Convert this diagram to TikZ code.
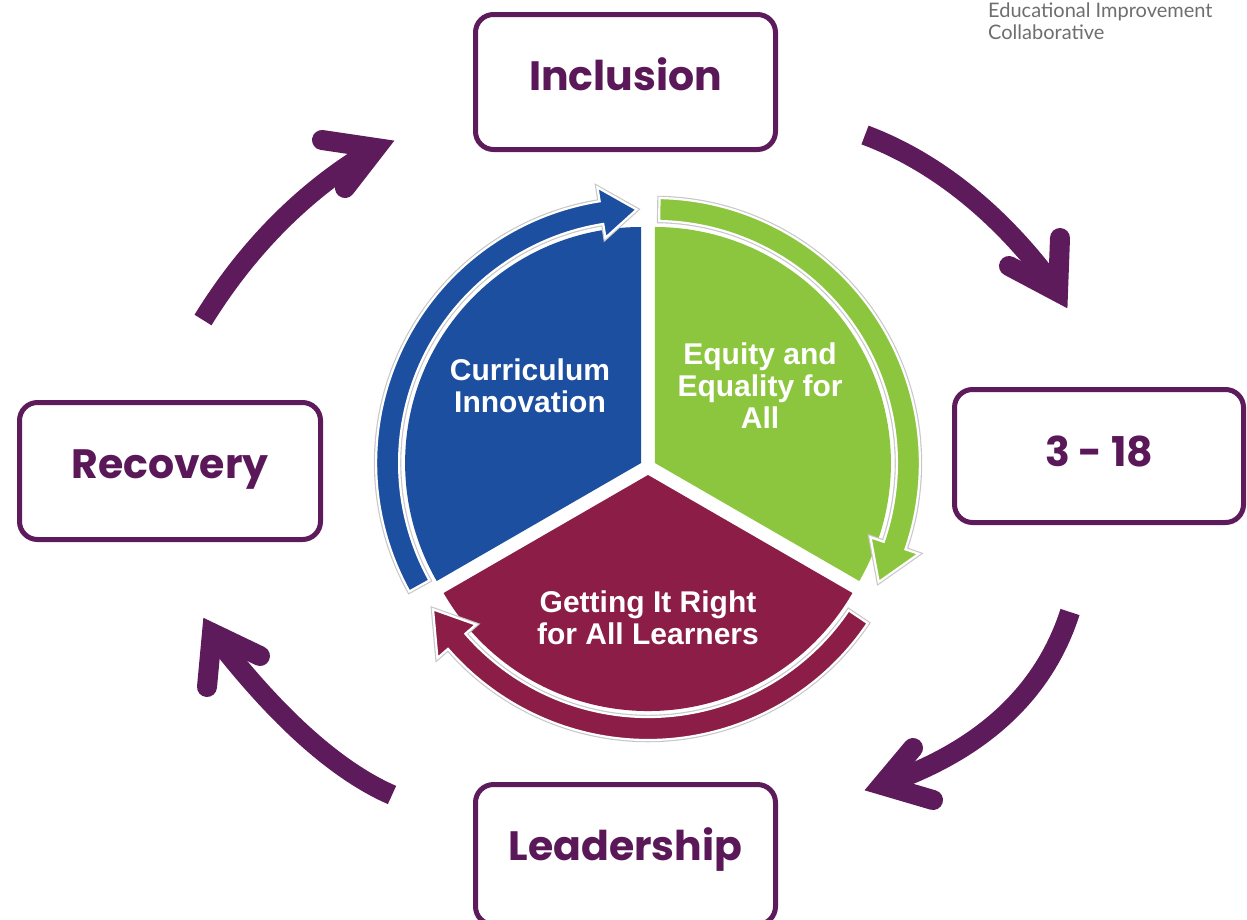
\documentclass[tikz,border=0pt]{standalone}
\usepackage{fontspec}
\setmainfont{Liberation Sans}
\newfontfamily\boxfont{Poppins}
\newfontfamily\logofont{Lato}
\definecolor{purp}{HTML}{5E1B5C}
\definecolor{purptext}{HTML}{5A1858}
\definecolor{cblue}{HTML}{1C4FA0}
\definecolor{cgreen}{HTML}{8CC63E}
\definecolor{cmaroon}{HTML}{8B1D46}
\definecolor{logogray}{HTML}{6E6E6E}
\tikzset{
  box/.style={draw=purp, line width=5pt, rounded corners=18pt, fill=white,
    minimum width=300pt, minimum height=135pt, inner sep=0pt, text=purptext,
    font=\boxfont\bfseries\fontsize{41}{41}\selectfont, text height=30pt},
  shaft/.style={draw=purp, line width=20pt},
  barb/.style={draw=purp, line width=20pt, line cap=round, line join=miter},
  band/.style={draw=white, line width=2.2pt, preaction={draw=black!22, line width=4.5pt}},
  seglabel/.style={text=white, font=\bfseries\fontsize{30}{32}\selectfont, align=center, inner sep=0pt},
}
\begin{document}
\begin{tikzpicture}[x=1pt,y=1pt]
\useasboundingbox (0,0) rectangle (1247,-919);

% logo text
\node[anchor=north west, inner sep=0pt, align=left, text=logogray,
      font=\logofont\fontsize{20}{21.5}\selectfont] (logo) at (988,-3)
      {Educational Improvement\\Collaborative};

% boxes
\node[box, text depth=14pt] (incl) at (625.5,-82) {Inclusion};
\node[box, text depth=10pt, minimum width=289pt, minimum height=133pt] (age) at (1099,-456) {3 - 18};
\node[box, text depth=16pt, minimum width=301pt, minimum height=137pt] (recov) at (170,-471) {Recovery};
\node[box, text depth=19pt, minimum height=140pt] (lead) at (625.5,-854.5) {Leadership};

% outer arrows
\coordinate (t1) at (203,-320);  \coordinate (v1) at (376,-148);
\coordinate (a1) at (322,-140);  \coordinate (b1) at (345,-188);
\draw[shaft] (t1) .. controls (240,-260) and (295,-195) .. (v1);
\draw[barb] (a1) -- (v1) -- (b1);

\coordinate (t2) at (865,-135);  \coordinate (v2) at (1058,-292);
\coordinate (a2) at (1060,-238); \coordinate (b2) at (1009,-266);
\draw[shaft] (t2) .. controls (945,-165) and (1010,-225) .. (v2);
\draw[barb] (a2) -- (v2) -- (b2);

\coordinate (t3) at (1070,-612); \coordinate (v3) at (882,-785);
\coordinate (a3) at (913,-748);  \coordinate (b3) at (933,-800);
\draw[shaft] (t3) .. controls (1045,-690) and (985,-750) .. (v3);
\draw[barb] (a3) -- (v3) -- (b3);

\coordinate (t4) at (392,-795);  \coordinate (v4) at (212,-633);
\coordinate (a4) at (207,-687);  \coordinate (b4) at (260,-656);
\draw[shaft] (t4) .. controls (335,-770) and (275,-715) .. (v4);
\draw[barb] (a4) -- (v4) -- (b4);

% central cycle: wedges
\begin{scope}[shift={(641.1,-463)}]
  \path[fill=cblue] (0,0) -- (90:236) arc[start angle=90, end angle=210, radius=236] -- cycle;
\end{scope}
\begin{scope}[shift={(654.9,-463)}]
  \path[fill=cgreen] (0,0) -- (-30:236) arc[start angle=-30, end angle=90, radius=236] -- cycle;
\end{scope}
\begin{scope}[shift={(648,-475)}]
  \path[fill=cmaroon] (0,0) -- (210:236) arc[start angle=210, end angle=330, radius=236] -- cycle;
\end{scope}

% bands with arrow heads
\begin{scope}[shift={(648,-475)}]
  \path[band, fill=cmaroon] (-34:242) -- (-34:265) arc[start angle=-34, end angle=-139, radius=265]
    -- (-139:279) -- (-148:253.5) -- (-139:228) -- (-139:242)
    arc[start angle=-139, end angle=-34, radius=242] -- cycle;
\end{scope}
\begin{scope}[shift={(641.1,-463)}]
  \path[band, fill=cblue] (209:242) -- (209:265) arc[start angle=209, end angle=99, radius=265]
    -- (99:279) -- (91:253.5) -- (99:228) -- (99:242)
    arc[start angle=99, end angle=209, radius=242] -- cycle;
\end{scope}
\begin{scope}[shift={(654.9,-463)}]
  \path[band, fill=cgreen] (89:242) -- (89:265) arc[start angle=89, end angle=-19, radius=265]
    -- (-19:279) -- (-28:253.5) -- (-19:228) -- (-19:242)
    arc[start angle=-19, end angle=89, radius=242] -- cycle;
\end{scope}

% labels
\node[seglabel] (curr) at (530,-385.5) {Curriculum\\Innovation};
\node[seglabel] (equity) at (760,-385.5) {Equity and\\Equality for\\All};
\node[seglabel] (girfec) at (648,-617.5) {Getting It Right\\for All Learners};
\end{tikzpicture}
\end{document}
